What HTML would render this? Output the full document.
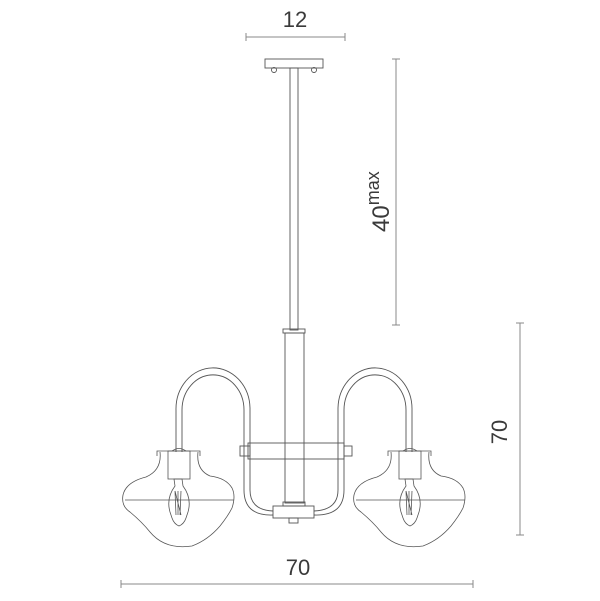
<!DOCTYPE html>
<html><head><style>
html,body{margin:0;padding:0;background:#fff;}
svg{display:block;}
text{font-family:"Liberation Sans","DejaVu Sans",sans-serif;fill:#3a3a3a;}
</style></head><body>
<svg width="600" height="601" viewBox="0 0 600 601" xmlns="http://www.w3.org/2000/svg">
<g stroke="#888" stroke-width="1" fill="none">
<line x1="246" y1="37" x2="345" y2="37"/><line x1="246" y1="33" x2="246" y2="41"/><line x1="345" y1="33" x2="345" y2="41"/>
<line x1="396" y1="59" x2="396" y2="325"/><line x1="392" y1="59" x2="400" y2="59"/><line x1="392" y1="325" x2="400" y2="325"/>
<line x1="520" y1="323" x2="520" y2="535"/><line x1="516" y1="323" x2="524" y2="323"/><line x1="516" y1="535" x2="524" y2="535"/>
<line x1="121" y1="584" x2="473" y2="584"/><line x1="121" y1="580" x2="121" y2="588"/><line x1="473" y1="580" x2="473" y2="588"/>
</g>
<g stroke="#555" stroke-width="0.9" fill="none">
<rect x="265" y="59" width="58" height="9"/>
<circle cx="274" cy="70" r="2.5"/><circle cx="314" cy="70" r="2.5"/>
<rect x="290" y="68" width="8" height="262"/>
<rect x="283" y="329" width="22" height="4"/>
<rect x="285" y="333" width="19" height="170"/>
<rect x="240" y="446" width="10" height="10"/>
<rect x="248" y="443" width="96" height="16"/>
<rect x="344" y="446" width="8" height="10"/>
<rect x="283" y="502" width="22" height="4"/>
<rect x="273" y="506" width="41" height="12"/>
<rect x="289" y="518" width="9" height="5"/>
<path d="M176 452 L176 410 A36 40 0 0 1 250 408 L250 490 Q250 510 273 511"/>
<path d="M182 452 L182 410 A30 34 0 0 1 244 410 L244 490 Q244 516 273 515"/>
<path d="M412 452 L412 410 A36 40 0 0 0 338 408 L338 490 Q338 510 314 511"/>
<path d="M406 452 L406 410 A30 34 0 0 0 344 410 L344 490 Q344 516 314 515"/>
</g>
<g id="shade" stroke="#555" stroke-width="0.8" fill="none">
<path d="M157 456 L157 451 L200 451 L200 456"/>
<path d="M172 451 Q179 446 186 451"/>
<rect x="168" y="451" width="22" height="28"/>
<path d="M160 452 Q162 470 146 477 Q126 482 123 495 Q121 506 130 512 Q142 522 150 532 Q165 550 192 546 Q208 540 220 526 Q228 516 232 508 Q236 496 232 488 Q226 478 210 476 Q196 470 198 452"/>
<line x1="125" y1="500" x2="234" y2="500"/>
<path d="M174 479 L182 479 L183 486 Q192 498 188 512 L186 518 Q184 524 179 526 Q174 524 172 518 L170 512 Q166 498 175 486 Z"/>
<path d="M175 491 L176 515 M178 491 L178 515 M181 491 L180 515 M175 491 L181 515"/>
</g>
<use href="#shade" transform="translate(231,0)"/>
<text x="295" y="27" font-size="22" text-anchor="middle">12</text>
<text x="298" y="575" font-size="22" text-anchor="middle">70</text>
<text transform="translate(507,432) rotate(-90)" font-size="22" text-anchor="middle">70</text>
<text transform="translate(389,232) rotate(-90)" font-size="24">40<tspan font-size="18" dy="-10">max</tspan></text>
</svg>
</body></html>
